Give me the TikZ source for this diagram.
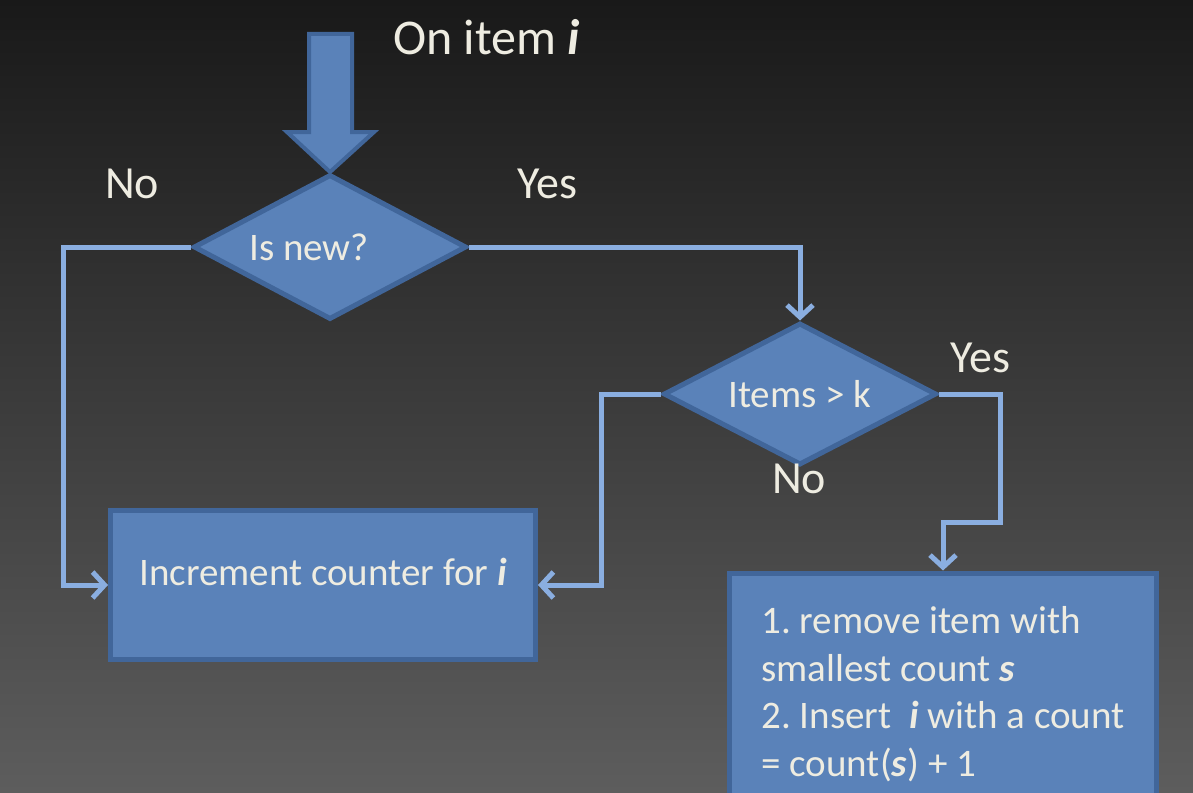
\documentclass[tikz,border=0pt]{standalone}
\usepackage{fontspec}
\setmainfont{Carlito}
\usepackage{tikz}
\usetikzlibrary{shapes.geometric, arrows.meta, positioning}
\definecolor{sfondoalto}{HTML}{191919}
\definecolor{sfondomezzo}{HTML}{2F2F2F}
\definecolor{sfondobasso}{HTML}{5D5D5D}
\definecolor{riempimento}{HTML}{5A82B9}
\definecolor{bordo}{HTML}{41669A}
\definecolor{connettore}{HTML}{8AAEE0}
\definecolor{testo}{HTML}{EEECE1}
\newcommand{\bi}[1]{\textbf{\textit{#1}}}
\def\pagina{(0,0) rectangle (1193,792)}

\begin{document}
\frenchspacing
\begin{tikzpicture}[x = 1pt, y = -1pt,
    blocco/.style = {draw = bordo, fill = riempimento, line width = 5pt, text = testo, inner sep = 0pt},
    rombo/.style = {blocco, diamond, aspect = 2},
    scatola/.style = {blocco, rectangle},
    conn/.style = {draw = connettore, line width = 5pt, -{Straight Barb[length = 12pt, width = 26pt]}},
    etichetta/.style = {text = testo, inner sep = 0pt, font = \fontsize{46}{50}\selectfont},
    corpo/.style = {font = \fontsize{39}{47.5}\selectfont}]
    % Sfondo sfumato
    \useasboundingbox \pagina;
    \clip \pagina;
    \shade[top color = sfondoalto, middle color = sfondomezzo, bottom color = sfondobasso] \pagina;
    % Rombi di decisione
    \node[rombo, minimum width = 273pt, minimum height = 145pt,
          label = {[etichetta, corpo, xshift = -21pt]center:Is new?}] (isnew) at (330,247) {};
    \node[rombo, corpo, minimum width = 273pt, minimum height = 142pt] (troppi) at (800,394) {Items > k};
    % Scatole
    \node[scatola, corpo, minimum width = 425pt, minimum height = 149pt,
          text height = 20pt, text depth = 20pt] (incr) at (323,585) {Increment counter for \bi{i}};
    \node[scatola, corpo, anchor = north, minimum width = 427pt, minimum height = 242pt,
          align = left] (sostituisci) at (943,570.5)
          {1. remove item with\\ smallest count \bi{s}\\ 2. Insert~ \bi{i} with a count\\ = count(\bi{s}) + 1};
    % Freccia d'ingresso
    \fill[riempimento, draw = bordo, line width = 4pt, line join = miter]
        (309,34) -- (352,34) -- (352,132) -- (374,132) -- (isnew.north)
        -- (287,132) -- (309,132) -- cycle;
    \node[etichetta, anchor = base west, font = \fontsize{50}{54}\selectfont] (titolo) at (393,55) {On item \bi{i}};
    % Connettori
    \coordinate (gomito) at (1000,522);
    \draw[conn] (isnew.west) -- ++(-128,0) |- (incr.west);
    \draw[conn] (isnew.east) -| (troppi.north);
    \draw[conn] (troppi.west) -- ++(-60,0) |- (incr.east);
    \draw[conn] (troppi.east) -| (gomito) -| (sostituisci.north);
    % Etichette Yes / No
    \node[etichetta, anchor = base west] (noA) at (105,198) {No};
    \node[etichetta, anchor = base west] (siA) at (517,198) {Yes};
    \node[etichetta, anchor = base west] (siB) at (950,372) {Yes};
    \node[etichetta, anchor = base west] (noB) at (772,493) {No};
\end{tikzpicture}
\end{document}
